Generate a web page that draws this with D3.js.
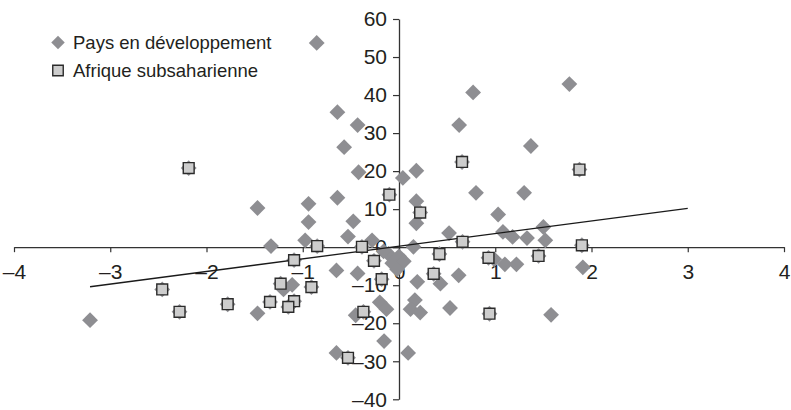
<!DOCTYPE html>
<html>
<head>
<meta charset="utf-8">
<script src="https://cdn.jsdelivr.net/npm/d3@7"></script>
<style>
  html, body { margin: 0; padding: 0; background: #fff; }
  svg { display: block; }
  text { font-family: "Liberation Sans", Arial, sans-serif; fill: #231f20; }
</style>
</head>
<body>
<svg id="chart" width="791" height="410"></svg>
<script>
// ---- Data ----
const seriesNames = ["Pays en développement", "Afrique subsaharienne"];

// Developing countries (diamonds)
const devX = [-0.855,-0.64,-0.43,-0.57,0.77,0.625,1.77,1.37,-0.42,0.04,0.18,-1.47,-0.94,-0.64,-0.94,-0.475,-0.53,-0.975,-1.33,-0.28,
  0.18,0.18,0.80,1.30,1.03,0.52,1.08,1.18,1.33,1.50,1.52,0.15,-0.65,-0.43,-1.11,-1.20,-1.47,-0.20,-0.13,-0.45,
  -0.155,-0.65,0.095,0.19,0.43,0.62,0.165,0.12,0.22,0.53,1.58,0.99,1.10,1.22,1.91,-3.21,-0.11,0.0,-0.07,0.05,-0.16,-0.02];
const devY = [53.7,35.5,32.1,26.3,40.7,32.1,42.9,26.6,19.7,18.2,20.1,10.3,11.4,13.0,6.6,6.8,2.8,1.8,0.3,1.8,
  12.1,6.3,14.3,14.3,8.6,3.7,4.0,2.7,2.4,5.3,1.8,0.1,-6.1,-6.9,-9.9,-11.1,-17.4,-14.5,-16.3,-17.9,
  -24.7,-27.8,-27.8,-9.1,-9.6,-7.4,-13.9,-16.3,-17.2,-16.0,-17.8,-3.2,-4.5,-4.5,-5.3,-19.2,-1.8,-2.4,-4.2,-3.7,-1.1,-5.8];

// Sub-Saharan Africa (squares, also part of the developing-country series)
const afrX = [-2.185,-0.10,0.655,1.875,0.22,0.66,1.90,-0.85,-0.385,-1.09,-0.26,0.42,0.93,1.45,0.36,0.94,
  -2.46,-2.28,-1.78,-1.23,-1.34,-1.09,-1.15,-0.91,-0.37,-0.53,-0.18];
const afrY = [20.8,13.8,22.4,20.4,9.1,1.4,0.5,0.3,0.1,-3.4,-3.6,-1.8,-2.8,-2.3,-7.0,-17.5,
  -11.1,-17.0,-15.0,-9.6,-14.4,-14.2,-15.7,-10.5,-17.0,-29.1,-8.4];

// Trend line end points
const trendX = [-3.21, 3.0];
const trendY = [-10.4, 10.2];

// Axis ticks
const xTicks = [-4,-3,-2,-1,0,1,2,3,4];
const yTicks = [-40,-30,-20,-10,0,10,20,30,40,50,60];

// ---- Drawing ----
const svg = d3.select("#chart");
const x = d3.scaleLinear().domain([-4, 4]).range([14, 784]);
const y = d3.scaleLinear().domain([-40, 60]).range([399.3, 19]);

const diamondColor = "#8e8e92";
const squareFill = "#cdcdcd";
const squareStroke = "#2b2b2b";
const diamondPath = d3.symbol().type(d3.symbolSquare).size(125)();
const squarePath = d3.symbol().type(d3.symbolSquare).size(118)();

// Axes
const xAxis = d3.axisBottom(x).tickValues(xTicks).tickSize(5).tickSizeOuter(0).tickPadding(12)
  .tickFormat(d => d < 0 ? "\u2013" + Math.abs(d) : String(d));
const gx = svg.append("g").attr("transform", `translate(0,${y(0)})`).call(xAxis);
gx.select(".domain").attr("stroke", "#333").attr("stroke-width", 1.3);
gx.selectAll(".tick line").attr("stroke", "#333").attr("stroke-width", 1.2);
gx.selectAll(".tick text").attr("font-size", 21).attr("fill", "#231f20")
  .attr("font-family", "'Liberation Sans', Arial, sans-serif");

const yAxis = d3.axisLeft(y).tickValues(yTicks).tickSize(6).tickSizeOuter(0).tickPadding(6)
  .tickFormat(d => d < 0 ? "\u2013" + Math.abs(d) : String(d));
const gy = svg.append("g").attr("transform", `translate(${x(0)},0)`).call(yAxis);
gy.select(".domain").attr("stroke", "#333").attr("stroke-width", 1.3);
gy.selectAll(".tick line").attr("stroke", "#333").attr("stroke-width", 1.2);
gy.selectAll(".tick text").attr("font-size", 21).attr("fill", "#231f20")
  .attr("font-family", "'Liberation Sans', Arial, sans-serif");

// Diamonds (all developing countries, including African ones under their squares)
const devData = devX.map((v, i) => ({ x: v, y: devY[i] }));
const afrData = afrX.map((v, i) => ({ x: v, y: afrY[i] }));

svg.append("g").selectAll("path.dev")
  .data(devData.concat(afrData))
  .join("path")
  .attr("class", "dev")
  .attr("d", diamondPath)
  .attr("transform", d => `translate(${x(d.x)},${y(d.y)}) rotate(45)`)
  .attr("fill", diamondColor);

// Trend line
const line = d3.line().x(d => x(d[0])).y(d => y(d[1]));
svg.append("path")
  .datum(trendX.map((v, i) => [v, trendY[i]]))
  .attr("d", line)
  .attr("fill", "none")
  .attr("stroke", "#1a1a1a")
  .attr("stroke-width", 1.3);

// Squares
svg.append("g").selectAll("path.afr")
  .data(afrData)
  .join("path")
  .attr("class", "afr")
  .attr("d", squarePath)
  .attr("transform", d => `translate(${x(d.x)},${y(d.y)})`)
  .attr("fill", squareFill)
  .attr("stroke", squareStroke)
  .attr("stroke-width", 1.4);

// Legend
const legend = svg.append("g");
legend.append("path").attr("d", diamondPath)
  .attr("transform", "translate(58,42.5) rotate(45)").attr("fill", diamondColor)
  .attr("transform", "translate(58,42.5) rotate(45) scale(0.85)");
legend.append("text").attr("x", 73).attr("y", 48.5).attr("font-size", 18.5).text(seriesNames[0]);
legend.append("path").attr("d", d3.symbol().type(d3.symbolSquare).size(110)())
  .attr("transform", "translate(58,70.5)")
  .attr("fill", squareFill).attr("stroke", squareStroke).attr("stroke-width", 1.4);
legend.append("text").attr("x", 73).attr("y", 77).attr("font-size", 18.5).text(seriesNames[1]);
</script>
</body>
</html>
